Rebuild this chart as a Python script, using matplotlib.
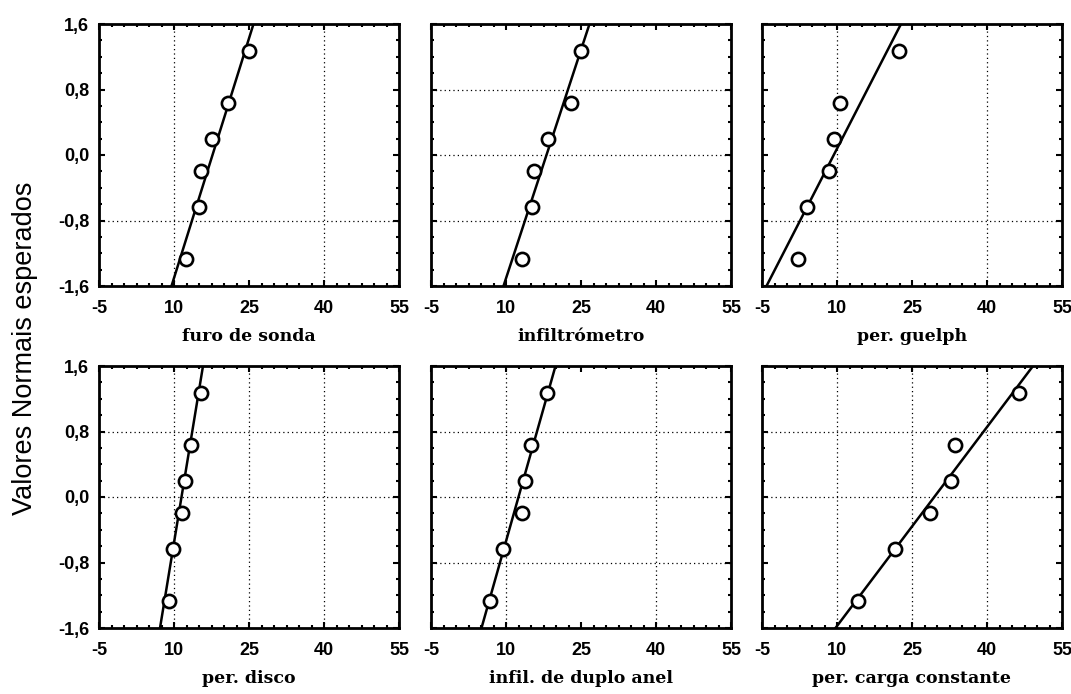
import matplotlib
matplotlib.use("Agg")
import matplotlib.pyplot as plt
from matplotlib.ticker import MultipleLocator

# expected normal scores (same for each panel, n = 6)
z_scores = [-1.27, -0.64, -0.20, 0.20, 0.64, 1.27]

titles = ["furo de sonda", "infiltrómetro", "per. guelph",
          "per. disco", "infil. de duplo anel", "per. carga constante"]

furo = [12.3, 15.0, 15.3, 17.5, 20.7, 25.0]
infiltrometro = [13.2, 15.1, 15.6, 18.3, 22.9, 24.9]
guelph = [2.1, 3.9, 8.4, 9.4, 10.6, 22.3]
disco = [8.9, 9.8, 11.6, 12.1, 13.3, 15.4]
duplo_anel = [6.8, 9.3, 13.2, 13.8, 15.0, 18.2]
carga_const = [14.2, 21.5, 28.6, 32.8, 33.6, 46.3]
series = [furo, infiltrometro, guelph, disco, duplo_anel, carga_const]

# fitted line: x value at z = -1.6 and z = 1.6
fit_low = [9.5, 9.5, -4.1, 7.2, 5.1, 9.7]
fit_high = [25.9, 26.7, 22.8, 15.8, 19.9, 49.2]

x_ticks = [-5, 10, 25, 40, 55]
y_ticks = [-1.6, -0.8, 0.0, 0.8, 1.6]
y_tick_labels = ["-1,6", "-0,8", "0,0", "0,8", "1,6"]

# grid lines that survive in the scan
v_grid = [[10, 40], [], [10, 40], [10, 25, 40], [10, 40], [10, 25, 40]]
h_grid = [[-0.8], [0.8, 0.0, -0.8], [-0.8], [0.8, 0.0], [0.8, 0.0, -0.8], [0.8, 0.0]]

W, H = 1071, 694
fig = plt.figure(figsize=(W / 100, H / 100), dpi=100)

lefts = [99, 431, 762]
tops = [24, 366]
aw, ah = 300, 262

tick_font = dict(family="Liberation Sans", weight="bold", size=13)

for i in range(6):
    r, c = divmod(i, 3)
    ax = fig.add_axes([lefts[c] / W, 1 - (tops[r] + ah) / H, aw / W, ah / H])
    ax.set_xlim(-5, 55)
    ax.set_ylim(-1.6, 1.6)

    for gx in v_grid[i]:
        ax.axvline(gx, color="black", lw=0.9, ls=(0, (1, 2.5)), zorder=1)
    for gy in h_grid[i]:
        ax.axhline(gy, color="black", lw=0.9, ls=(0, (1, 2.5)), zorder=1)

    ax.plot([fit_low[i], fit_high[i]], [-1.6, 1.6], color="black", lw=1.8, zorder=2)
    ax.plot(series[i], z_scores, "o", mfc="white", mec="black", ms=9.5, mew=1.9, zorder=3)

    ax.set_xticks(x_ticks)
    ax.set_xticklabels([str(v) for v in x_ticks], fontdict=tick_font)
    ax.set_yticks(y_ticks)
    if c == 0:
        ax.set_yticklabels(y_tick_labels, fontdict=tick_font)
    else:
        ax.set_yticklabels([])
    ax.xaxis.set_minor_locator(MultipleLocator(2.5))
    ax.yaxis.set_minor_locator(MultipleLocator(0.2))
    ax.tick_params(which="both", direction="in", top=True, right=True, width=1.5)
    ax.tick_params(which="major", length=4)
    ax.tick_params(axis="x", which="major", pad=10)
    ax.tick_params(axis="y", which="major", pad=7)
    ax.tick_params(which="minor", length=2.5)
    for s in ax.spines.values():
        s.set_linewidth(2)

    ax.set_xlabel(titles[i], family="DejaVu Serif", weight="bold", size=12.5, labelpad=8)

fig.text(25 / W, 1 - 348 / H, "Valores Normais esperados", rotation=90,
         ha="center", va="center", family="Liberation Sans", size=19.5)

fig.savefig("out.png", dpi=100)
